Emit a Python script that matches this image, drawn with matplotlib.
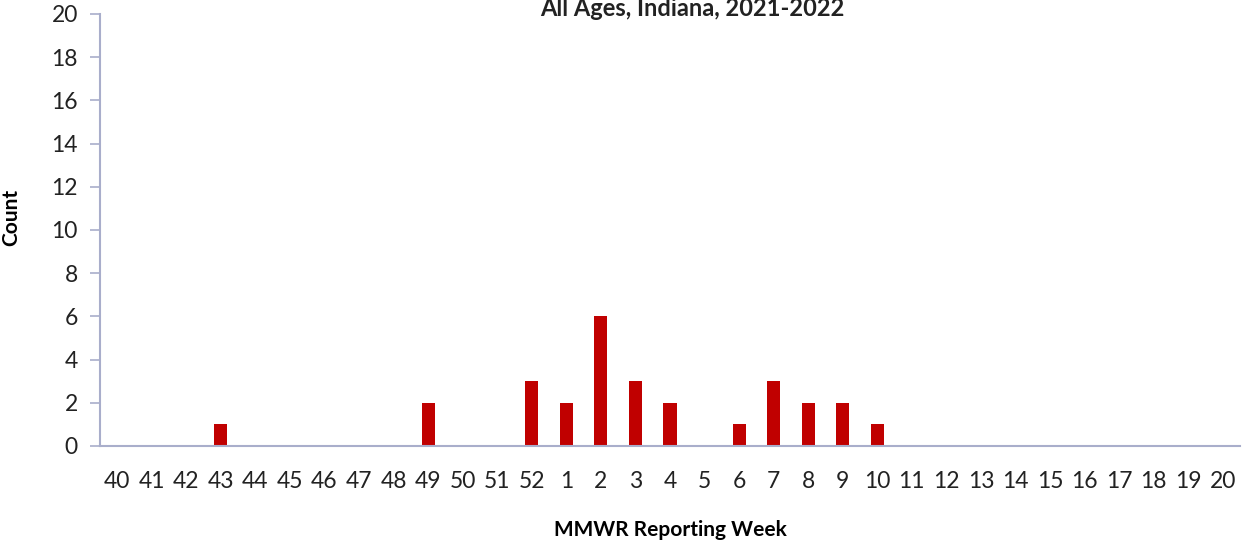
import matplotlib.pyplot as plt
import numpy as np

plt.rcParams['font.family'] = ['Lato', 'DejaVu Sans']

weeks = [str(w) for w in range(40, 53)] + [str(w) for w in range(1, 21)]
counts = [0, 0, 0, 1, 0, 0, 0, 0, 0, 2, 0, 0, 3,
          2, 6, 3, 2, 0, 1, 3, 2, 2, 1,
          0, 0, 0, 0, 0, 0, 0, 0, 0, 0]

axis_color = '#A9AECB'
bar_color = '#C00000'

fig = plt.figure(figsize=(12.43, 5.47), dpi=100)
ax = fig.add_axes([100 / 1243, 101 / 547, 1140 / 1243, 432 / 547])

x = np.arange(len(weeks))
ax.bar(x, counts, width=0.38, color=bar_color)

ax.set_xlim(-0.5, len(weeks) - 0.5)
ax.set_ylim(0, 20)
ax.set_yticks(range(0, 21, 2))
ax.set_xticks(x)
ax.set_xticklabels(weeks)

for s in ['top', 'right']:
    ax.spines[s].set_visible(False)
for s in ['left', 'bottom']:
    ax.spines[s].set_color(axis_color)
    ax.spines[s].set_linewidth(1.5)

ax.tick_params(axis='y', colors=axis_color, labelcolor='#222222', labelsize=16.5,
               length=7, width=1.2, pad=9)
ax.tick_params(axis='x', length=0, labelcolor='#222222', labelsize=16.5, pad=18)

ax.set_xlabel('MMWR Reporting Week', fontsize=15, fontweight='bold', labelpad=20)
ax.set_ylabel('Count', fontsize=15, fontweight='bold')
ax.yaxis.set_label_coords(-0.069, 0.528)

fig.text(0.557, 0.984, 'All Ages, Indiana, 2021-2022', ha='center', va='center',
         fontsize=17, fontweight='bold', color='#222222')

fig.savefig('out.png', dpi=100)
